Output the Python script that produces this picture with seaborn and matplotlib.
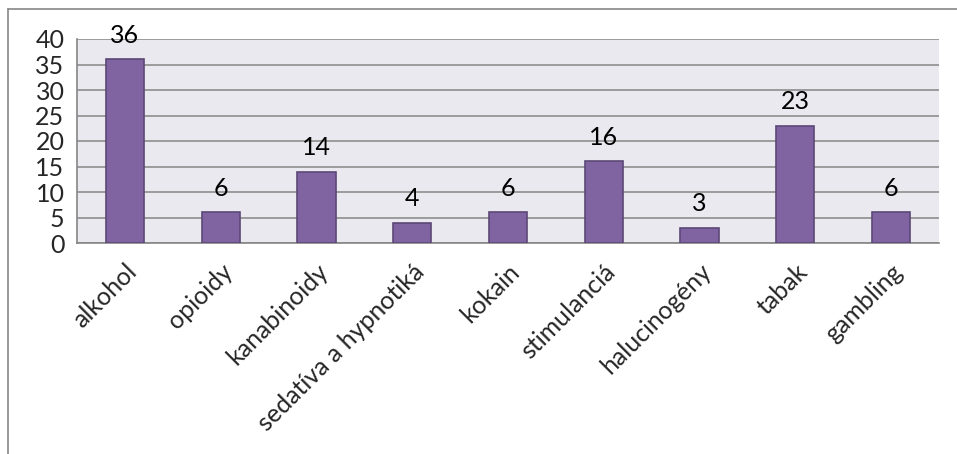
import matplotlib
matplotlib.use("Agg")
import matplotlib.pyplot as plt
from matplotlib.lines import Line2D
import pandas as pd
import seaborn as sns

categories = ["alkohol", "opioidy", "kanabinoidy", "sedatíva a hypnotiká", "kokain",
              "stimulanciá", "halucinogény", "tabak", "gambling"]
values = [36, 6, 14, 4, 6, 16, 3, 23, 6]
y_ticks = [0, 5, 10, 15, 20, 25, 30, 35, 40]

sns.set_style("white")
plt.rcParams["font.family"] = ["Lato", "DejaVu Sans"]

W, H = 957, 454
fig = plt.figure(figsize=(W / 100, H / 100), dpi=100)
ax = fig.add_axes([77 / W, 1 - 243 / H, (939 - 77) / W, (243 - 39) / H])
ax.set_facecolor("#EBE9F0")

df = pd.DataFrame({"kategoria": categories, "pocet": values})
sns.barplot(data=df, x="kategoria", y="pocet", color="#8064A2", saturation=1,
            width=0.4, edgecolor="#5C4776", linewidth=1.2, ax=ax, zorder=3)

ax.set_ylim(0, 40)
ax.set_xlim(-0.5, len(categories) - 0.5)
ax.set_yticks(y_ticks)
ax.yaxis.grid(True, color="#868686", linewidth=1.1, zorder=0)
ax.set_axisbelow(True)
ax.set_xlabel("")
ax.set_ylabel("")

for c in ax.containers:
    ax.bar_label(c, padding=9, fontsize=18, color="black")

for s in ["top", "right"]:
    ax.spines[s].set_visible(False)
for s in ["left", "bottom"]:
    ax.spines[s].set_color("#868686")
    ax.spines[s].set_linewidth(1.2)

ax.tick_params(axis="y", length=6, color="#868686", labelsize=18, pad=3, width=1.2)
ax.set_xticks([i - 0.5 for i in range(len(categories) + 1)], minor=True)
ax.tick_params(axis="x", which="minor", length=8, color="#868686", width=1.2)
ax.tick_params(axis="x", which="major", length=0, labelsize=18, pad=12)
ax.set_xticks(range(len(categories)))
ax.set_xticklabels(categories, rotation=45, ha="right", rotation_mode="anchor")

# outer chart frame
fig.add_artist(Line2D([8 / W, 8 / W], [0, 1 - 9 / H], color="#868686", linewidth=1.2))
fig.add_artist(Line2D([8 / W, 1], [1 - 9 / H, 1 - 9 / H], color="#868686", linewidth=1.2))

fig.savefig("out.png", dpi=100)
